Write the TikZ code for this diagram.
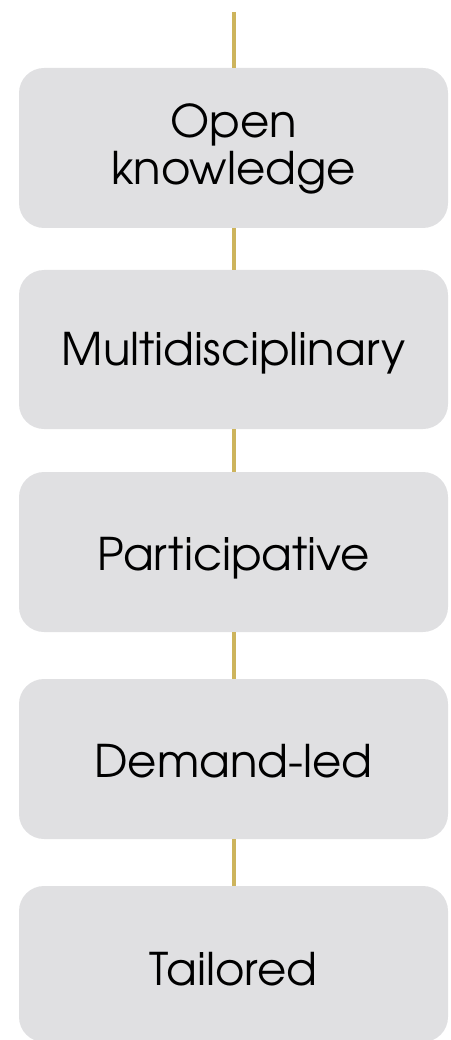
\documentclass[tikz,border=0pt]{standalone}
\usepackage{fontspec}
\setmainfont{TeX Gyre Adventor}
\definecolor{boxgray}{HTML}{E0E0E2}
\definecolor{goldline}{HTML}{CDB45C}
\tikzset{
  stagebox/.style={fill=boxgray, draw=none, rounded corners=25pt, minimum width=429pt, inner sep=0pt},
  lbl/.style={font=\fontsize{45}{54}\selectfont, text=black, inner sep=0pt, anchor=base},
  conn/.style={draw=goldline, line width=4pt}
}
\begin{document}
\begin{tikzpicture}[x=1pt,y=1pt]
\useasboundingbox (0,0) rectangle (450,-1040);
\node[stagebox, minimum height=160pt] (b1) at (233.5,-148) {};
\node[stagebox, minimum height=159pt] (b2) at (233.5,-349.5) {};
\node[stagebox, minimum height=160pt] (b3) at (233.5,-552) {};
\node[stagebox, minimum height=160pt] (b4) at (233.5,-759) {};
\node[stagebox, minimum height=156pt] (b5) at (233.5,-964) {};
\coordinate (top) at (233.5,-12);
\draw[conn] (top) -- (b1.north);
\draw[conn] (b1.south) -- (b2.north);
\draw[conn] (b2.south) -- (b3.north);
\draw[conn] (b3.south) -- (b4.north);
\draw[conn] (b4.south) -- (b5.north);
\node[lbl] (t1a) at (233.5,-138) {Open};
\node[lbl] (t1b) at (233.5,-185) {knowledge};
\node[lbl] (t2) at (233.5,-365) {Multidisciplinary};
\node[lbl] (t3) at (233.5,-570) {Participative};
\node[lbl] (t4) at (233.5,-777) {Demand-led};
\node[lbl] (t5) at (233.5,-985) {Tailored};
\end{tikzpicture}
\end{document}
